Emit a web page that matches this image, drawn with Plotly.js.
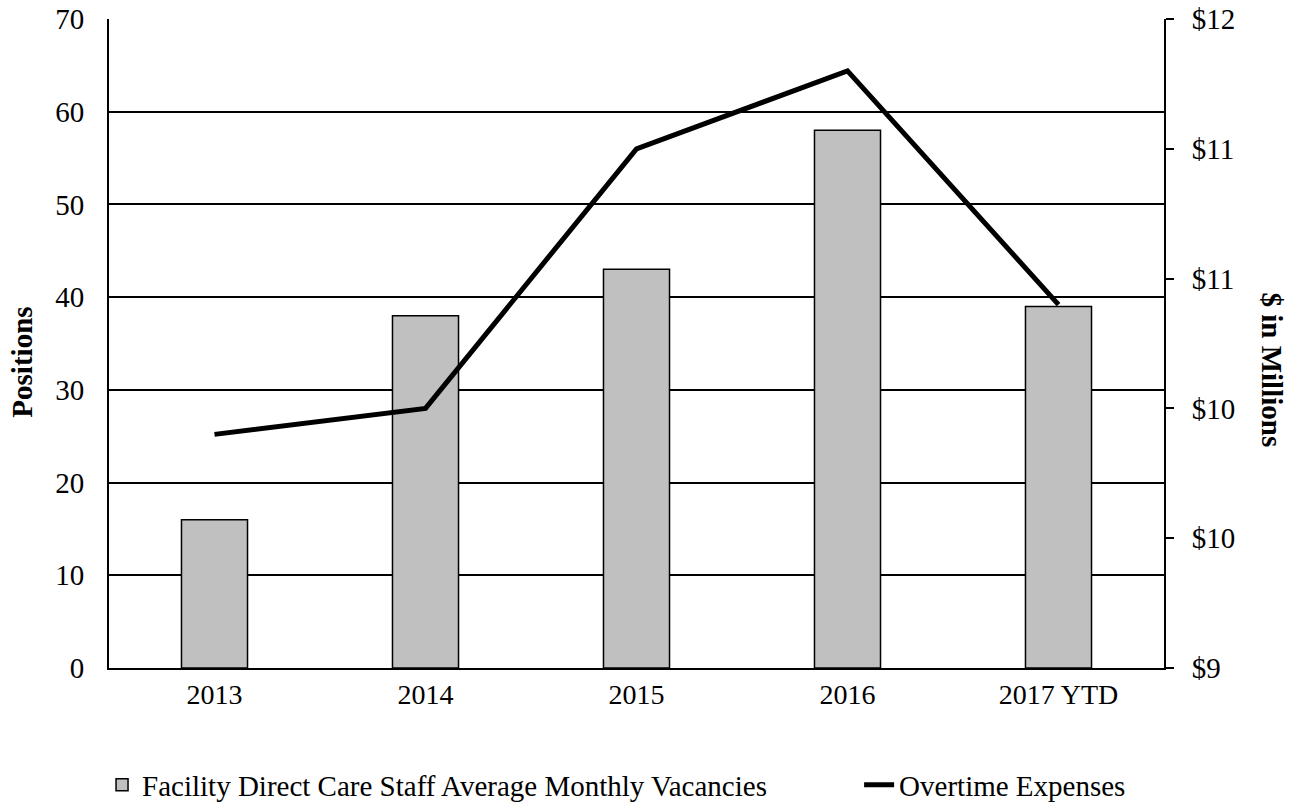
<!DOCTYPE html>
<html>
<head>
<meta charset="utf-8">
<script src="https://cdn.plot.ly/plotly-3.0.1.min.js"></script>
<style>
  html, body { margin: 0; padding: 0; background: #fff; }
  #chart { width: 1297px; height: 803px; }
</style>
</head>
<body>
<div id="chart"></div>
<script>
// Years shown along the bottom axis
const years = ['2013', '2014', '2015', '2016', '2017 YTD'];
// Average monthly vacancies among facility direct care staff (positions)
const vacancies = [16, 38, 43, 58, 39];
// Overtime expenses, $ millions
const overtime = [10.08, 10.2, 11.4, 11.76, 10.68];

const serif = 'Liberation Serif, Times New Roman, serif';

const traces = [
  {
    type: 'bar',
    name: 'Facility Direct Care Staff Average Monthly Vacancies',
    x: years,
    y: vacancies,
    legend: 'legend',
    marker: { color: '#C0C0C0', line: { color: '#000', width: 1.5 } },
    hoverinfo: 'x+y'
  },
  {
    type: 'scatter',
    mode: 'lines',
    name: 'Overtime Expenses',
    x: years,
    y: overtime,
    yaxis: 'y2',
    legend: 'legend2',
    line: { color: '#000', width: 5 },
    hoverinfo: 'x+y'
  }
];

// Each series gets its own one-item legend so the two entries sit apart on one row
const legendBase = {
  orientation: 'h',
  xanchor: 'left',
  y: -0.18,
  yanchor: 'middle',
  font: { family: serif, size: 29, color: '#000' },
  bgcolor: 'rgba(0,0,0,0)'
};

const layout = {
  width: 1297,
  height: 803,
  margin: { l: 109, r: 133, t: 19, b: 135, autoexpand: false },
  paper_bgcolor: '#fff',
  plot_bgcolor: '#fff',
  font: { family: serif, size: 28, color: '#000' },
  bargap: 0.687,
  showlegend: true,
  legend: Object.assign({}, legendBase, { x: -0.0066 }),
  legend2: Object.assign({}, legendBase, { x: 0.711 }),
  xaxis: {
    type: 'category',
    showline: true,
    linecolor: '#000',
    linewidth: 2,
    showgrid: false,
    ticks: '',
    ticklabelstandoff: 0,
    tickfont: { family: serif, size: 28, color: '#000' }
  },
  yaxis: {
    range: [0, 70],
    dtick: 10,
    showline: true,
    linecolor: '#000',
    linewidth: 2,
    showgrid: true,
    gridcolor: '#000',
    gridwidth: 2,
    zeroline: false,
    ticks: '',
    ticklabelstandoff: 17,
    tickfont: { family: serif, size: 29, color: '#000' }
  },
  yaxis2: {
    overlaying: 'y',
    side: 'right',
    range: [9, 12],
    dtick: 0.6,
    tick0: 9,
    tickformat: '$.0f',
    showline: true,
    linecolor: '#000',
    linewidth: 2,
    showgrid: false,
    zeroline: false,
    ticks: 'outside',
    ticklen: 8,
    tickwidth: 2,
    tickcolor: '#000',
    ticklabelstandoff: 12,
    tickfont: { family: serif, size: 29, color: '#000' }
  },
  annotations: [
    {
      text: '<b>Positions</b>',
      xref: 'paper', yref: 'paper',
      x: -0.0825, y: 0.472,
      xanchor: 'center', yanchor: 'middle',
      textangle: -90,
      showarrow: false,
      font: { family: serif, size: 29, color: '#000' }
    },
    {
      text: '<b>$ in Millions</b>',
      xref: 'paper', yref: 'paper',
      x: 1.102, y: 0.459,
      xanchor: 'center', yanchor: 'middle',
      textangle: 90,
      showarrow: false,
      font: { family: serif, size: 29, color: '#000' }
    }
  ]
};

Plotly.newPlot('chart', traces, layout, { displayModeBar: false, staticPlot: true });
</script>
</body>
</html>
